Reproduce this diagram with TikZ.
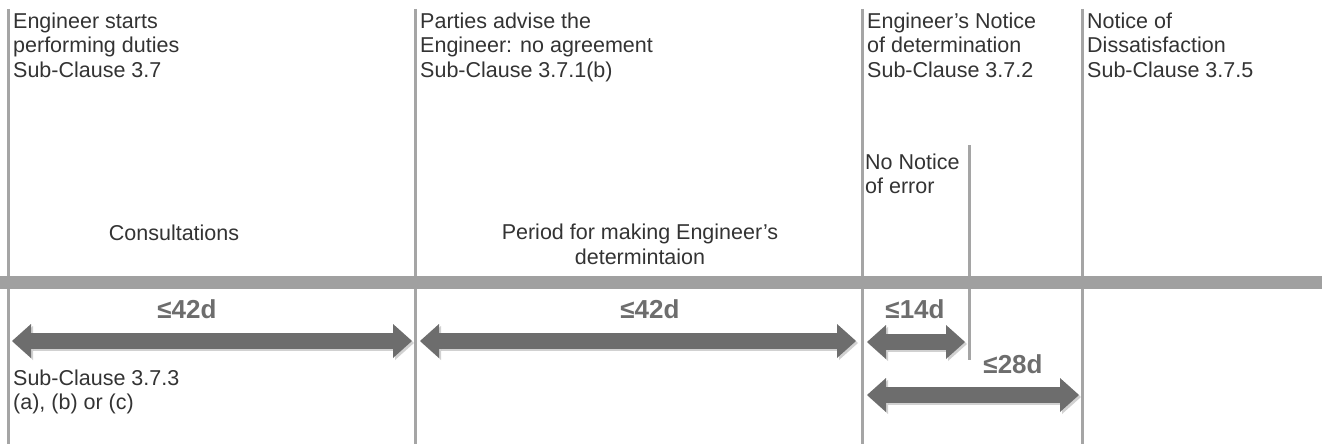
\documentclass[tikz,border=0pt]{standalone}
\usepackage{fontspec}
\setmainfont{Liberation Sans}
\usetikzlibrary{arrows.meta}

\definecolor{markgray}{HTML}{A5A5A5}
\definecolor{bargray}{HTML}{A0A0A0}
\definecolor{arrowgray}{HTML}{6D6D6D}
\definecolor{inkgray}{HTML}{333333}

\tikzset{
    stage/.style={draw=markgray, line width=3pt},
    period/.style={draw=arrowgray, line width=16pt,
        {Triangle[width=34pt, length=19pt, line width=0pt]}-{Triangle[width=34pt, length=19pt, line width=0pt]}},
    periodshadow/.style={period, draw=black, opacity=0.18, transform canvas={shift={(2pt,-2pt)}}},
    days/.style={text=arrowgray, anchor=base, inner sep=0pt, font=\fontsize{26}{28}\selectfont\bfseries},
    note/.style={text=inkgray, inner sep=0pt, align=left, anchor=north west, font=\fontsize{21.5}{24.5}\selectfont},
    mid/.style={text=inkgray, inner sep=0pt, align=center, anchor=north, font=\fontsize{21.5}{25}\selectfont},
}

\begin{document}
\begin{tikzpicture}[x=1pt, y=-1pt]
\useasboundingbox (0,0) rectangle (1322,444);

% stage lines
\foreach \x/\s in {8/start, 415/advise, 862/notice, 1082/dissat}
{
    \coordinate (\s top) at (\x, 9);
    \coordinate (\s bot) at (\x, 444);
    \draw[stage] (\s top) -- (\s bot);
}
\coordinate (error top) at (969, 145);
\coordinate (error bot) at (969, 360);
\draw[stage] (error top) -- (error bot);

% time line
\coordinate (line left) at (0, 282.5);
\coordinate (line right) at (1322, 282.5);
\draw[draw=bargray, line width=13pt] (line left) -- (line right);

% events
\node[note] (starts)  at (13, 12.5)   {Engineer starts\\performing duties\\Sub-Clause 3.7};
\node[note] (advise)  at (420, 12.5)  {Parties advise the\\Engineer: no agreement\\Sub-Clause 3.7.1(b)};
\node[note] (notice)  at (867, 12.5)  {Engineer's Notice\\of determination\\Sub-Clause 3.7.2};
\node[note] (dissat)  at (1087, 12.5) {Notice of\\Dissatisfaction\\Sub-Clause 3.7.5};
\node[note] (error)   at (865, 153.5) {No Notice\\of error};

\node[mid] (consult) at (174, 224.5) {Consultations};
\node[mid] (making)  at (640, 223.5) {Period for making Engineer's\\determintaion};

\node[note] (rule)    at (13, 369.5)  {Sub-Clause 3.7.3\\(a), (b) or (c)};

% periods
\coordinate (a1) at (12, 341);  \coordinate (b1) at (412, 341);
\coordinate (a2) at (420, 341); \coordinate (b2) at (856, 341);
\coordinate (a3) at (867, 342); \coordinate (b3) at (965, 342);
\coordinate (a4) at (867, 395); \coordinate (b4) at (1079, 395);
\foreach \a/\b in {a1/b1, a2/b2, a3/b3, a4/b4}
{
    \draw[periodshadow] (\a) -- (\b);
    \draw[period] (\a) -- (\b);
}

\node[days] (d1) at (187, 318)  {≤42d};
\node[days] (d2) at (650, 318)  {≤42d};
\node[days] (d3) at (915, 318)  {≤14d};
\node[days] (d4) at (1013, 373) {≤28d};

\end{tikzpicture}
\end{document}
